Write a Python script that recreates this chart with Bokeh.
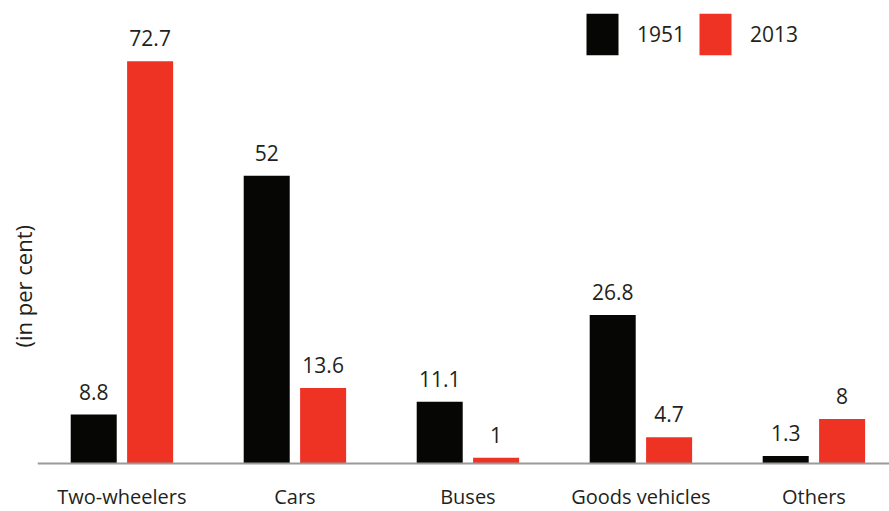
from bokeh.plotting import figure
from bokeh.models import ColumnDataSource, FixedTicker, Legend, LegendItem, Range1d, Title
from bokeh.transform import dodge
from bokeh.core.properties import value
from bokeh.embed import file_html
from bokeh.resources import INLINE

categories = ["Two-wheelers", "Cars", "Buses", "Goods vehicles", "Others"]
share_1951 = [8.8, 52, 11.1, 26.8, 1.3]
share_2013 = [72.7, 13.6, 1, 4.7, 8]
labels_1951 = ["8.8", "52", "11.1", "26.8", "1.3"]
labels_2013 = ["72.7", "13.6", "1", "4.7", "8"]
series_names = ["1951", "2013"]

BLACK = "#060605"
RED = "#EE3224"
TEXT = "#231F20"
FONT = "Open Sans"

xs = list(range(len(categories)))
src = ColumnDataSource(dict(x=xs, v51=share_1951, v13=share_2013,
                            l51=labels_1951, l13=labels_2013))

p = figure(width=889, height=511, output_backend="svg", toolbar_location=None,
           x_range=Range1d(-0.488, 4.437), y_range=Range1d(-8.73, 83.67),
           min_border_left=37, min_border_right=0, min_border_top=0, min_border_bottom=0)
p.outline_line_color = None
p.grid.visible = False
p.background_fill_color = "white"
p.border_fill_color = "white"

off = 0.163
bw = 0.266
r1 = p.vbar(x=dodge("x", -off, range=p.x_range), top="v51", bottom=0, width=bw, source=src,
            fill_color=BLACK, line_color=None)
r2 = p.vbar(x=dodge("x", off, range=p.x_range), top="v13", bottom=0, width=bw, source=src,
            fill_color=RED, line_color=None)

p.text(x=dodge("x", -off, range=p.x_range), y="v51", text="l51", source=src,
       text_align="center", text_baseline="alphabetic", y_offset=-23,
       text_font=value(FONT), text_font_size="21px", text_color=TEXT)
p.text(x=dodge("x", off, range=p.x_range), y="v13", text="l13", source=src,
       text_align="center", text_baseline="alphabetic", y_offset=-23,
       text_font=value(FONT), text_font_size="21px", text_color=TEXT)

# x axis drawn at y = 0
xa = p.xaxis[0]
xa.fixed_location = 0
xa.ticker = FixedTicker(ticks=xs)
xa.major_label_overrides = {i: c for i, c in enumerate(categories)}
xa.major_tick_line_color = None
xa.minor_tick_line_color = None
xa.major_tick_in = 0
xa.major_tick_out = 0
xa.axis_line_color = "#9A9A9A"
xa.axis_line_width = 2
xa.major_label_text_font = FONT
xa.major_label_text_font_size = "20px"
xa.major_label_text_color = TEXT
xa.major_label_standoff = 20

p.yaxis.visible = False
p.add_layout(Title(text="(in per cent)", align="left", offset=164, standoff=0,
                   text_font=FONT, text_font_style="normal", text_font_size="22px",
                   text_color=TEXT), "left")

legend = Legend(items=[LegendItem(label=series_names[0], renderers=[r1]),
                       LegendItem(label=series_names[1], renderers=[r2])],
                location=(545, 451), orientation="horizontal",
                glyph_width=40, glyph_height=52, label_standoff=15,
                spacing=10, padding=0, margin=0, border_line_color=None,
                background_fill_alpha=0, label_text_font=FONT,
                label_text_font_size="21px", label_text_color=TEXT)
p.add_layout(legend)

open("out.html", "w").write(file_html(p, INLINE))
